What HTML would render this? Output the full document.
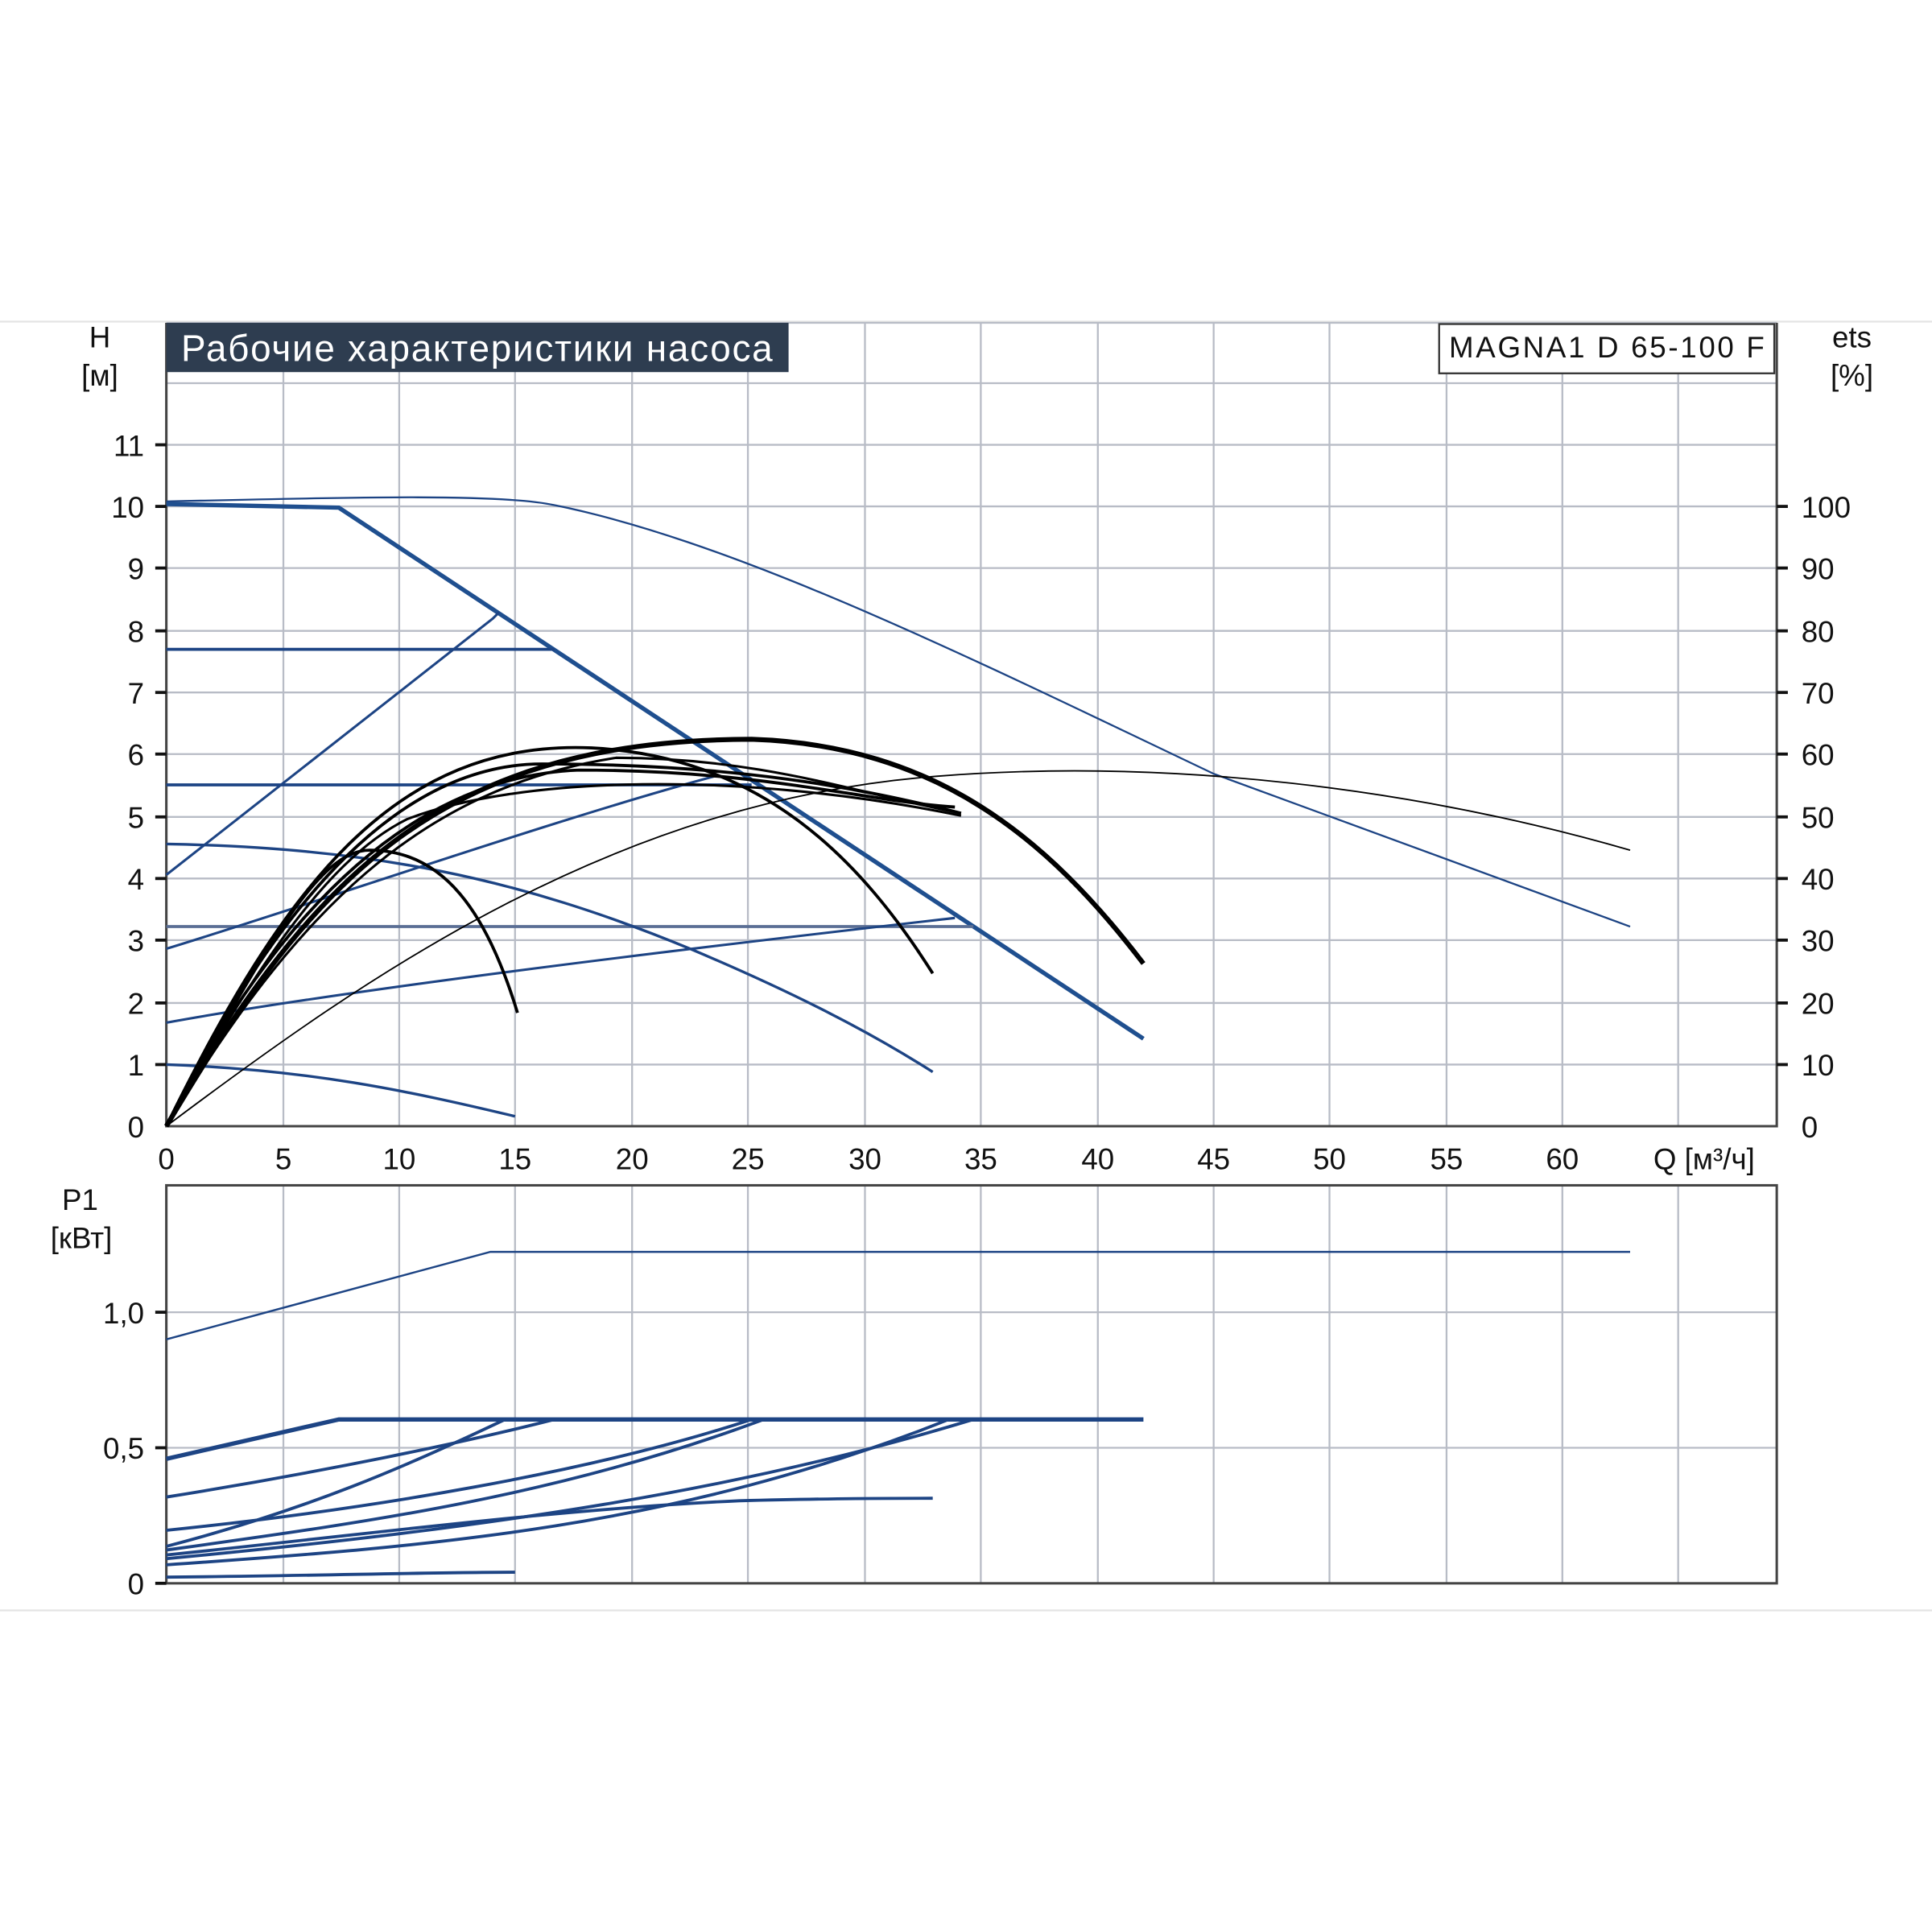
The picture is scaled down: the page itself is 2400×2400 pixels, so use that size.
<!DOCTYPE html>
<html><head><meta charset="utf-8"><style>html,body{margin:0;padding:0;background:#fff}svg{display:block}</style></head>
<body>
<svg width="2400" height="2400" viewBox="0 0 1568 1568" xmlns="http://www.w3.org/2000/svg" font-family="'Liberation Sans', 'DejaVu Sans', sans-serif">
<line x1="0" y1="261" x2="1568" y2="261" stroke="#e4e4e4" stroke-width="1.5"/>
<line x1="0" y1="1307" x2="1568" y2="1307" stroke="#e4e4e4" stroke-width="1.5"/>
<g stroke="#b8bcc6" stroke-width="1.5">
<line x1="230" y1="262" x2="230" y2="914"/><line x1="324" y1="262" x2="324" y2="914"/><line x1="418" y1="262" x2="418" y2="914"/><line x1="513" y1="262" x2="513" y2="914"/><line x1="607" y1="262" x2="607" y2="914"/><line x1="702" y1="262" x2="702" y2="914"/><line x1="796" y1="262" x2="796" y2="914"/><line x1="891" y1="262" x2="891" y2="914"/><line x1="985" y1="262" x2="985" y2="914"/><line x1="1079" y1="262" x2="1079" y2="914"/><line x1="1174" y1="262" x2="1174" y2="914"/><line x1="1268" y1="262" x2="1268" y2="914"/><line x1="1362" y1="262" x2="1362" y2="914"/>
<line x1="135" y1="311" x2="1442" y2="311"/><line x1="135" y1="361" x2="1442" y2="361"/><line x1="135" y1="411" x2="1442" y2="411"/><line x1="135" y1="461" x2="1442" y2="461"/><line x1="135" y1="512" x2="1442" y2="512"/><line x1="135" y1="562" x2="1442" y2="562"/><line x1="135" y1="612" x2="1442" y2="612"/><line x1="135" y1="663" x2="1442" y2="663"/><line x1="135" y1="713" x2="1442" y2="713"/><line x1="135" y1="763" x2="1442" y2="763"/><line x1="135" y1="814" x2="1442" y2="814"/><line x1="135" y1="864" x2="1442" y2="864"/>
<line x1="135" y1="262" x2="1442" y2="262"/>
</g>
<g stroke="#444" stroke-width="2">
<line x1="135" y1="262" x2="135" y2="915"/><line x1="1442" y1="262" x2="1442" y2="915"/><line x1="135" y1="914" x2="1442" y2="914"/>
</g>
<g stroke="#111" stroke-width="2.5">
<line x1="126" y1="361" x2="135" y2="361"/><line x1="126" y1="411" x2="135" y2="411"/><line x1="126" y1="461" x2="135" y2="461"/><line x1="126" y1="512" x2="135" y2="512"/><line x1="126" y1="562" x2="135" y2="562"/><line x1="126" y1="612" x2="135" y2="612"/><line x1="126" y1="663" x2="135" y2="663"/><line x1="126" y1="713" x2="135" y2="713"/><line x1="126" y1="763" x2="135" y2="763"/><line x1="126" y1="814" x2="135" y2="814"/><line x1="126" y1="864" x2="135" y2="864"/>
<line x1="1442" y1="411" x2="1451" y2="411"/><line x1="1442" y1="461" x2="1451" y2="461"/><line x1="1442" y1="512" x2="1451" y2="512"/><line x1="1442" y1="562" x2="1451" y2="562"/><line x1="1442" y1="612" x2="1451" y2="612"/><line x1="1442" y1="663" x2="1451" y2="663"/><line x1="1442" y1="713" x2="1451" y2="713"/><line x1="1442" y1="763" x2="1451" y2="763"/><line x1="1442" y1="814" x2="1451" y2="814"/><line x1="1442" y1="864" x2="1451" y2="864"/>
</g>
<rect x="135" y="262" width="505" height="40" fill="#2e3d50"/>
<text x="147" y="293" font-size="30" fill="#fff" textLength="480">Рабочие характеристики насоса</text>
<rect x="1168" y="263" width="272" height="40" fill="#fff" stroke="#333" stroke-width="1.5"/>
<text x="1176" y="290" font-size="24" fill="#111" textLength="256">MAGNA1 D 65-100 F</text>
<g font-size="24" fill="#111">
<text x="81" y="282" text-anchor="middle">H</text><text x="81" y="313" text-anchor="middle">[м]</text>
<text x="1503" y="282" text-anchor="middle">ets</text><text x="1503" y="313" text-anchor="middle">[%]</text>
<g text-anchor="end">
<text x="117" y="370">11</text><text x="117" y="420">10</text><text x="117" y="470">9</text><text x="117" y="521">8</text><text x="117" y="571">7</text><text x="117" y="621">6</text><text x="117" y="672">5</text><text x="117" y="722">4</text><text x="117" y="772">3</text><text x="117" y="823">2</text><text x="117" y="873">1</text><text x="117" y="923">0</text>
<text x="117" y="1074">1,0</text><text x="117" y="1184">0,5</text><text x="117" y="1294">0</text>
</g>
<g>
<text x="1462" y="420">100</text><text x="1462" y="470">90</text><text x="1462" y="521">80</text><text x="1462" y="571">70</text><text x="1462" y="621">60</text><text x="1462" y="672">50</text><text x="1462" y="722">40</text><text x="1462" y="772">30</text><text x="1462" y="823">20</text><text x="1462" y="873">10</text><text x="1462" y="923">0</text>
</g>
<g text-anchor="middle">
<text x="135" y="949">0</text><text x="230" y="949">5</text><text x="324" y="949">10</text><text x="418" y="949">15</text><text x="513" y="949">20</text><text x="607" y="949">25</text><text x="702" y="949">30</text><text x="796" y="949">35</text><text x="891" y="949">40</text><text x="985" y="949">45</text><text x="1079" y="949">50</text><text x="1174" y="949">55</text><text x="1268" y="949">60</text><text x="1383" y="949">Q [м³/ч]</text>
<text x="65" y="982">P1</text><text x="66" y="1013">[кВт]</text>
</g>
</g>
<g fill="none" stroke="#1d4484">
<path d="M135,407 C300,403 410,401 450,410 C600,440 800,540 985,628 L1323,752" stroke-width="1.5"/>
<path d="M135,409 L275,412 L928,843" stroke-width="3.5" stroke="#1f4f8f"/>
<path d="M135,527 L450,527" stroke-width="2.5"/>
<path d="M135,637 L610,637" stroke-width="2.5"/>
<path d="M135,752 L790,752" stroke-width="2.5" stroke="#5a6e94"/>
<path d="M135,710 L400,502 L405,497" stroke-width="2"/>
<path d="M135,770 C250,735 450,665 580,630" stroke-width="2"/>
<path d="M135,830 C300,800 600,765 775,745" stroke-width="2"/>
<path d="M135,685 C300,688 420,712 560,770 C650,808 710,840 757,870" stroke-width="2.2"/>
<path d="M135,864 C250,868 330,885 418,906" stroke-width="2.2"/>
</g>
<g fill="none" stroke="#000">
<path d="M135,914 C300,790 500,650 760,630 C950,615 1150,640 1323,690" stroke-width="1.2"/>
<path d="M135,914 C250,720 350,600 610,600 C760,605 850,680 928,782" stroke-width="4"/>
<path d="M135,914 C230,720 320,600 480,607 C620,614 700,700 757,790" stroke-width="2.5"/>
<path d="M135,914 C220,760 260,690 300,690 C360,690 395,740 420,822" stroke-width="2.5"/>
<path d="M135,914 C230,720 330,620 440,620 C600,620 700,640 780,660" stroke-width="2.5"/>
<path d="M135,914 C230,730 340,630 470,625 C620,625 700,650 775,655" stroke-width="2.5"/>
<path d="M135,914 C240,740 340,640 500,615 C620,615 700,645 780,660" stroke-width="2"/>
<path d="M135,914 C200,800 260,700 330,665 C420,630 600,625 780,662" stroke-width="2"/>
</g>
<g stroke="#b8bcc6" stroke-width="1.5">
<line x1="230" y1="962" x2="230" y2="1285"/><line x1="324" y1="962" x2="324" y2="1285"/><line x1="418" y1="962" x2="418" y2="1285"/><line x1="513" y1="962" x2="513" y2="1285"/><line x1="607" y1="962" x2="607" y2="1285"/><line x1="702" y1="962" x2="702" y2="1285"/><line x1="796" y1="962" x2="796" y2="1285"/><line x1="891" y1="962" x2="891" y2="1285"/><line x1="985" y1="962" x2="985" y2="1285"/><line x1="1079" y1="962" x2="1079" y2="1285"/><line x1="1174" y1="962" x2="1174" y2="1285"/><line x1="1268" y1="962" x2="1268" y2="1285"/><line x1="1362" y1="962" x2="1362" y2="1285"/>
<line x1="135" y1="1065" x2="1442" y2="1065"/><line x1="135" y1="1175" x2="1442" y2="1175"/>
</g>
<rect x="135" y="962" width="1307" height="323" fill="none" stroke="#444" stroke-width="2"/>
<g stroke="#111" stroke-width="2.5"><line x1="126" y1="1065" x2="135" y2="1065"/><line x1="126" y1="1175" x2="135" y2="1175"/><line x1="126" y1="1285" x2="135" y2="1285"/></g>
<g fill="none" stroke="#1d4484" stroke-width="2.5">
<path d="M135,1087 L398,1016 L1323,1016" stroke-width="1.6"/>
<path d="M135,1184 L275,1152 L928,1152" stroke-width="3.5"/>
<path d="M135,1215 C260,1195 380,1170 450,1152"/>
<path d="M135,1255 C250,1225 330,1190 410,1152"/>
<path d="M135,1242 C300,1225 480,1195 610,1152"/>
<path d="M135,1258 C300,1235 450,1215 620,1152"/>
<path d="M135,1265 C400,1240 600,1210 790,1152"/>
<path d="M135,1270 C350,1255 550,1240 770,1152"/>
<path d="M135,1262 C300,1245 450,1225 600,1218 C680,1216 720,1216 757,1216"/>
<path d="M135,1280 C250,1279 350,1276 418,1276"/>
</g>
</svg>
</body></html>
